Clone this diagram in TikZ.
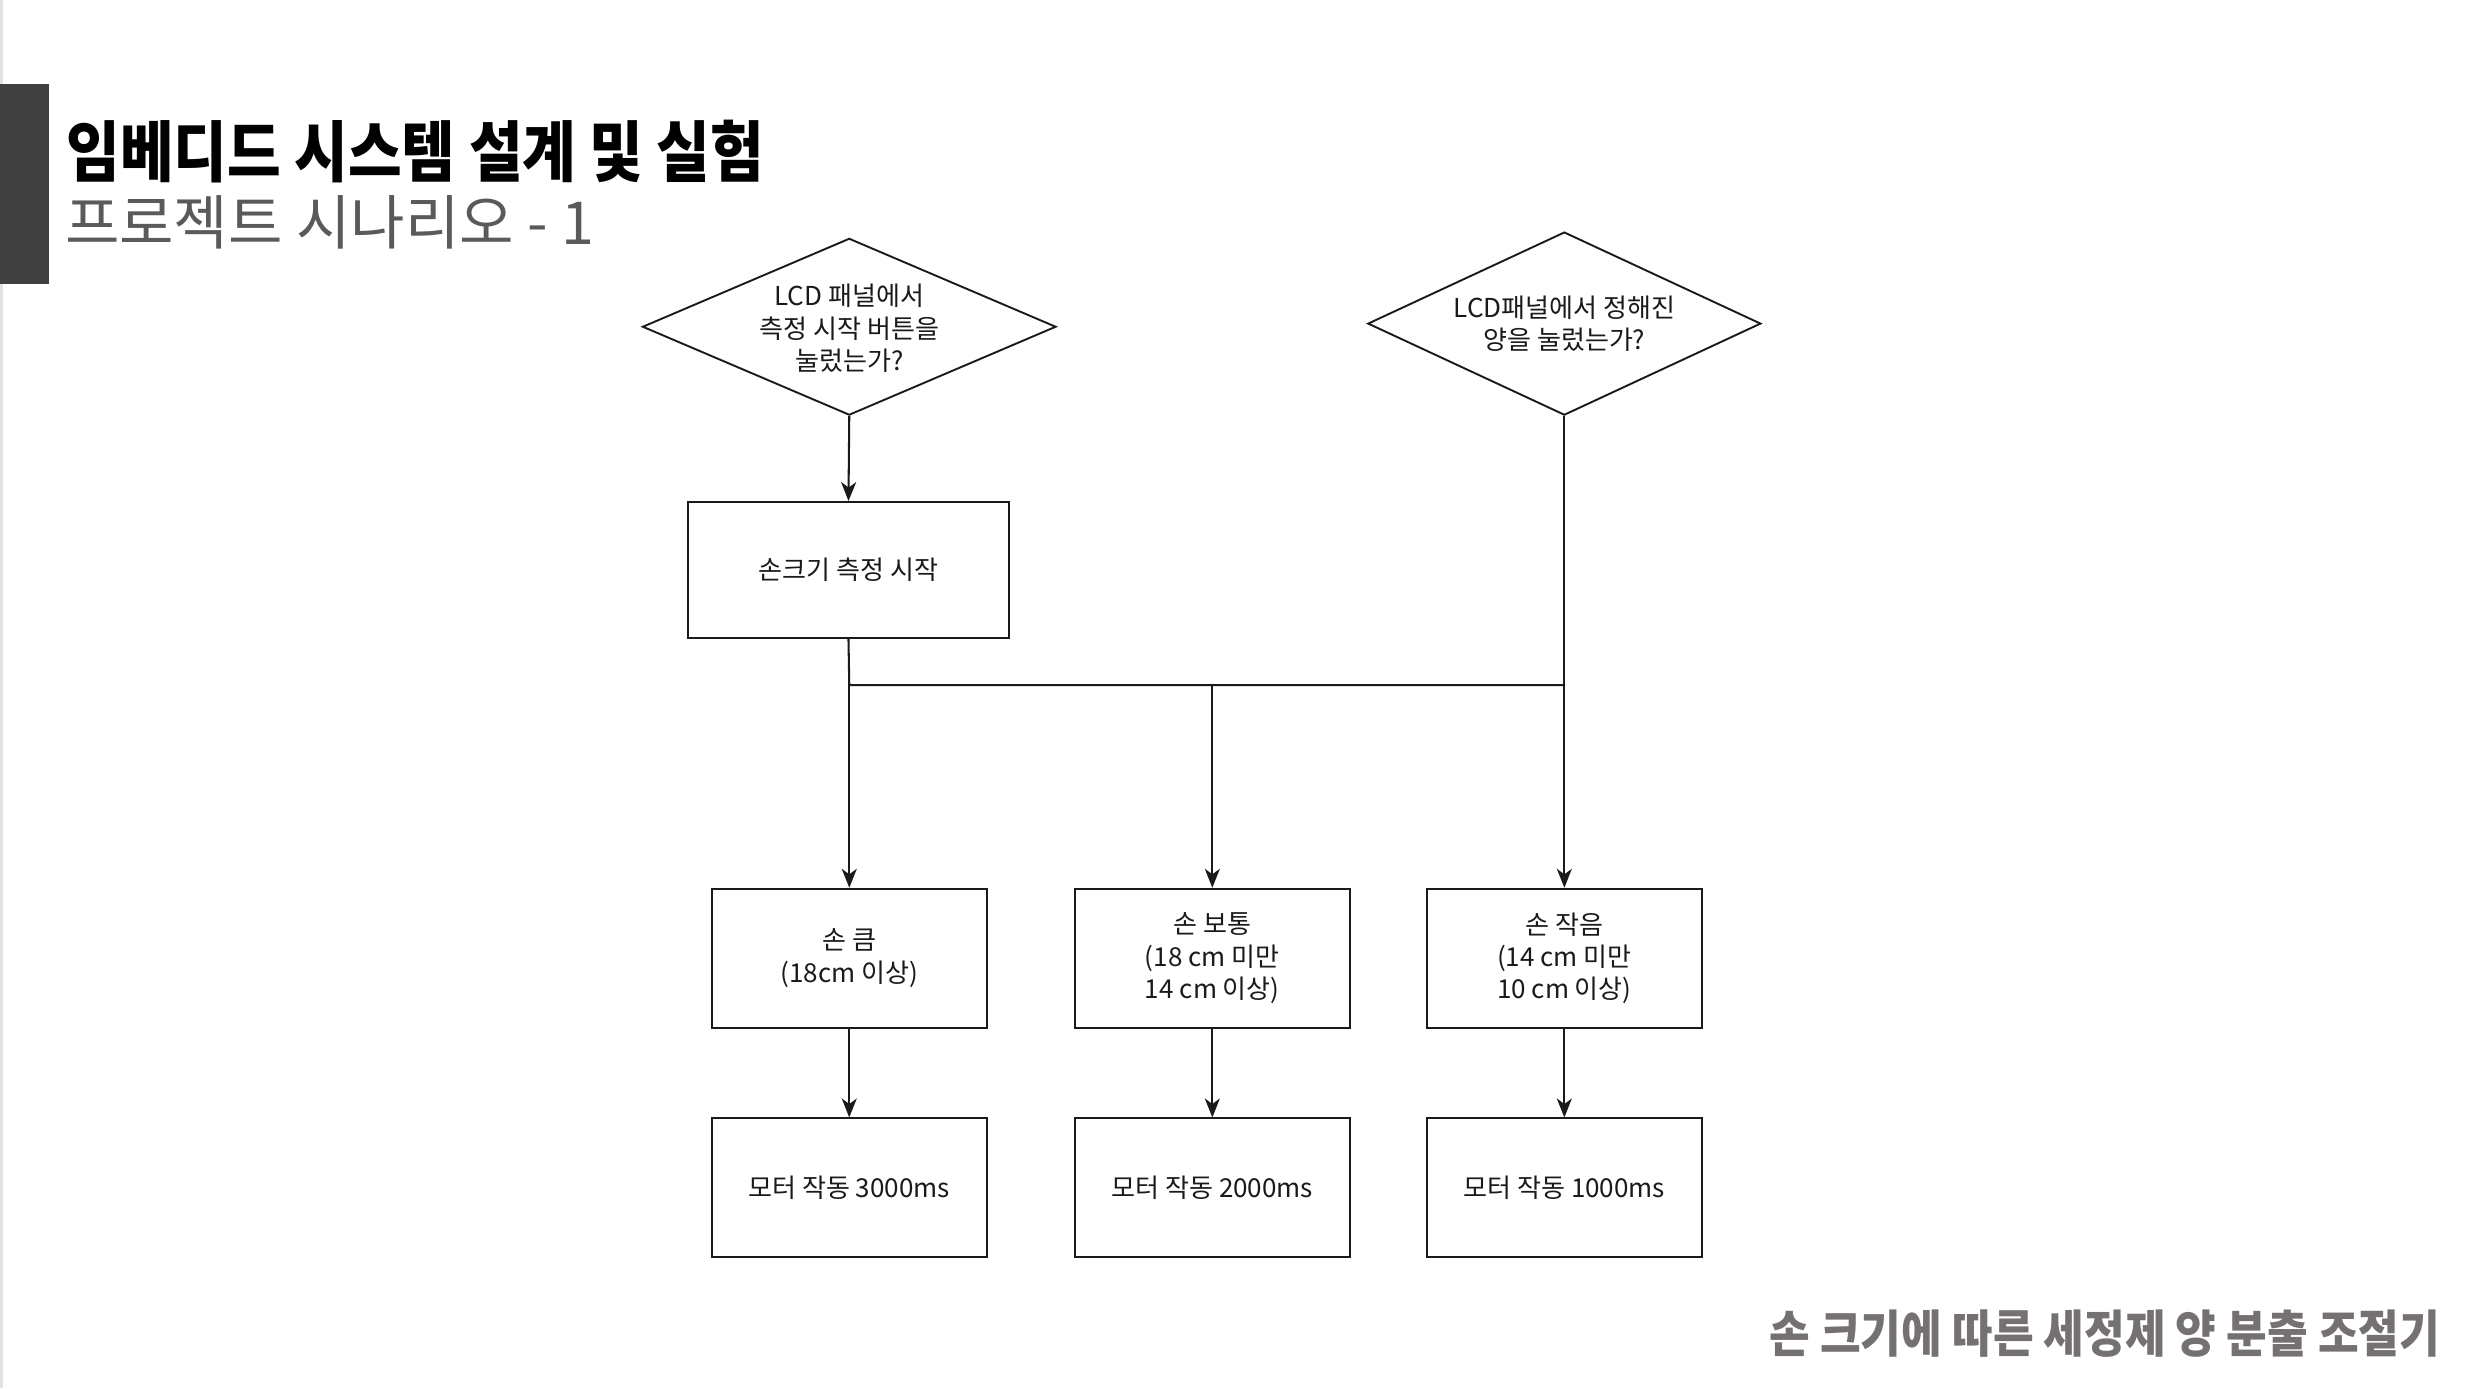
\documentclass[tikz,border=0pt]{standalone}
\usepackage{fontspec}
\setmainfont{Noto Sans CJK KR}
\newfontfamily\titlefont[FakeStretch=0.88]{Noto Sans CJK KR}
\newfontfamily\footfont[FakeStretch=0.875]{Noto Sans CJK KR}
\usetikzlibrary{shapes.geometric,arrows.meta}
\definecolor{barc}{HTML}{404040}
\definecolor{subc}{HTML}{5A5A5A}
\definecolor{footc}{HTML}{767171}
\definecolor{linec}{HTML}{1A1A1A}
\definecolor{edgec}{HTML}{E2E2E2}
\tikzset{
  boxn/.style={draw=linec, line width=1.2pt, minimum width=174pt, minimum height=88pt, inner sep=0pt},
  bigbox/.style={draw=linec, line width=1.2pt, minimum width=203pt, minimum height=86pt, inner sep=0pt},
  dia/.style={draw=linec, line width=1.2pt, diamond, inner sep=0pt},
  txt/.style={align=center, font=\fontsize{16.5}{20.5}\selectfont, text=linec, inner sep=0pt},
  arr/.style={draw=linec, line width=1.3pt, -{Stealth[length=12pt,width=9.5pt,inset=3.5pt]}},
  ln/.style={draw=linec, line width=1.3pt}
}
\begin{document}
\begin{tikzpicture}[x=1pt,y=-1pt]
\useasboundingbox (0,0) rectangle (1566,879.3);
\fill[white] (0,0) rectangle (1566,879.3);
\draw[edgec, line width=2pt] (1,0) -- (1,879.3);
\fill[barc] (0,53) rectangle (31,180);
\node[anchor=west, inner sep=0pt, font=\titlefont\bfseries\fontsize{42}{46}\selectfont] (title) at (42,96) {임베디드 시스템 설계 및 실험};
\node[anchor=west, inner sep=0pt, text=subc, font=\fontsize{37.5}{41}\selectfont] (sub) at (41,141) {프로젝트 시나리오 - 1};
\node[anchor=east, inner sep=0pt, text=footc, font=\footfont\bfseries\fontsize{32}{36}\selectfont] (foot) at (1546,845) {손 크기에 따른 세정제 양 분출 조절기};

\node[dia, minimum width=262pt, minimum height=112pt] (d1) at (538,207) {};
\node[txt] (d1t) at (538,208) {LCD 패널에서\\측정 시작 버튼을\\눌렀는가?};
\node[dia, minimum width=249pt, minimum height=116pt] (d2) at (991,205) {};
\node[txt] (d2t) at (991,205) {LCD패널에서 정해진\\양을 눌렀는가?};

\node[bigbox] (start) at (537.5,361) {};
\node[txt] (startt) at (537.5,361) {손크기 측정 시작};

\node[boxn] (a1) at (538,607) {};
\node[txt] (a1t) at (538,607) {손 큼\\(18cm 이상)};
\node[boxn] (b1) at (768,607) {};
\node[txt] (b1t) at (768,607) {손 보통\\(18 cm 미만\\14 cm 이상)};
\node[boxn] (c1) at (991,607) {};
\node[txt] (c1t) at (991,607) {손 작음\\(14 cm 미만\\10 cm 이상)};

\node[boxn] (a2) at (538,752.5) {};
\node[txt] (a2t) at (538,752.5) {모터 작동 3000ms};
\node[boxn] (b2) at (768,752.5) {};
\node[txt] (b2t) at (768,752.5) {모터 작동 2000ms};
\node[boxn] (c2) at (991,752.5) {};
\node[txt] (c2t) at (991,752.5) {모터 작동 1000ms};

\coordinate (jl) at (538,434);
\coordinate (jm) at (768,434);
\coordinate (jr) at (991,434);

\draw[arr] (d1.south) -- (start.north);
\draw[ln] (start.south) -- (jl) -- (jr);
\draw[arr] (d2.south) -- (c1.north);
\draw[arr] (jl) -- (a1.north);
\draw[arr] (jm) -- (b1.north);
\draw[arr] (a1.south) -- (a2.north);
\draw[arr] (b1.south) -- (b2.north);
\draw[arr] (c1.south) -- (c2.north);
\end{tikzpicture}
\end{document}
